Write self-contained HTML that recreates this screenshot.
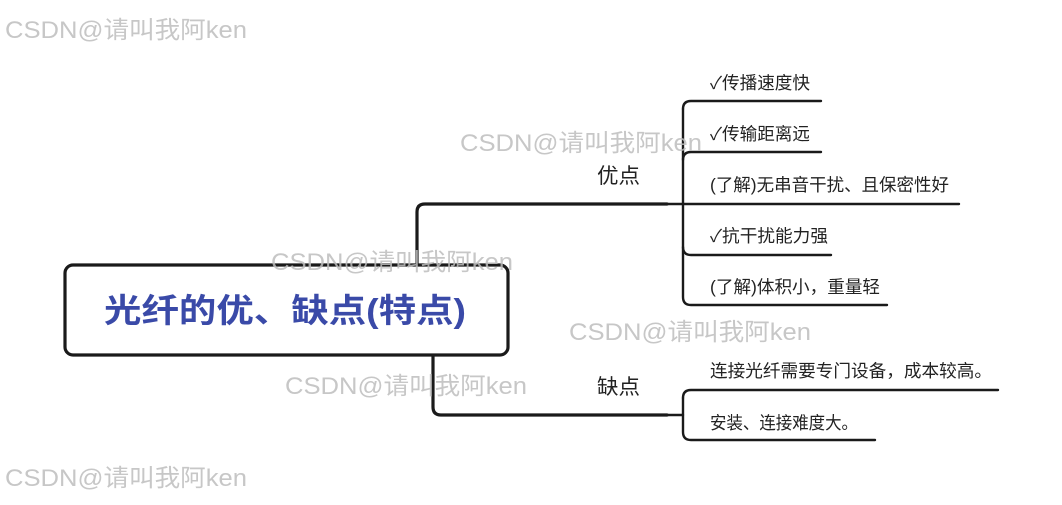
<!DOCTYPE html>
<html><head><meta charset="utf-8"><style>
html,body{margin:0;padding:0;background:#fff;width:1062px;height:505px;overflow:hidden}
svg{display:block}
text{font-family:"Liberation Sans","Noto Sans CJK SC",sans-serif}
</style></head><body>
<svg width="1062" height="505" viewBox="0 0 1062 505" xmlns="http://www.w3.org/2000/svg">
<rect width="1062" height="505" fill="#fff"/>
<g fill="none" stroke="#1a1a1a" stroke-linecap="round">
  <path d="M417 264 V212 Q417 204 425 204 H667" stroke-width="3.2"/>
  <path d="M667 204 H683" stroke-width="2.4"/>
  <path d="M683 109 Q683 101 691 101 H821" stroke-width="2.4"/>
  <path d="M683 109 V297 Q683 305 691 305 H887" stroke-width="2.4"/>
  <path d="M683 160 Q683 152 691 152 H821" stroke-width="2.4"/>
  <path d="M683 204 H959" stroke-width="2.4"/>
  <path d="M683 247 Q683 255 691 255 H831" stroke-width="2.4"/>
  <path d="M433 356 V407 Q433 415 441 415 H667" stroke-width="3.2"/>
  <path d="M667 415 H683" stroke-width="2.4"/>
  <path d="M683 398 Q683 390 691 390 H998" stroke-width="2.4"/>
  <path d="M683 398 V432 Q683 440 691 440 H875" stroke-width="2.4"/>
  <rect x="65" y="265" width="443" height="90" rx="8" ry="8" stroke-width="3.2" fill="#fff"/>
</g>
<text x="104" y="322" font-size="33" font-weight="bold" fill="#3a4aa8" textLength="362" lengthAdjust="spacingAndGlyphs">光纤的优、缺点(特点)</text>
<g font-size="21" fill="#222">
  <text x="597" y="183" textLength="43" lengthAdjust="spacingAndGlyphs">优点</text>
  <text x="597" y="394" textLength="43" lengthAdjust="spacingAndGlyphs">缺点</text>
</g>
<g font-size="17.5" fill="#222" lengthAdjust="spacingAndGlyphs">
  <text x="710" y="89" textLength="100" lengthAdjust="spacingAndGlyphs">✓传播速度快</text>
  <text x="710" y="140" textLength="100" lengthAdjust="spacingAndGlyphs">✓传输距离远</text>
  <text x="710" y="191" textLength="239" lengthAdjust="spacingAndGlyphs">(了解)无串音干扰、且保密性好</text>
  <text x="710" y="242" textLength="118" lengthAdjust="spacingAndGlyphs">✓抗干扰能力强</text>
  <text x="710" y="293" textLength="170" lengthAdjust="spacingAndGlyphs">(了解)体积小，重量轻</text>
  <text x="710" y="377" textLength="282" lengthAdjust="spacingAndGlyphs">连接光纤需要专门设备，成本较高。</text>
  <text x="710" y="429" textLength="148" lengthAdjust="spacingAndGlyphs">安装、连接难度大。</text>
</g>
<g font-size="24" fill="#bdbdbd" fill-opacity="0.85">
  <text x="5" y="38" textLength="242" lengthAdjust="spacingAndGlyphs">CSDN@请叫我阿ken</text>
  <text x="460" y="151" textLength="242" lengthAdjust="spacingAndGlyphs">CSDN@请叫我阿ken</text>
  <text x="271" y="270" textLength="242" lengthAdjust="spacingAndGlyphs">CSDN@请叫我阿ken</text>
  <text x="569" y="340" textLength="242" lengthAdjust="spacingAndGlyphs">CSDN@请叫我阿ken</text>
  <text x="285" y="394" textLength="242" lengthAdjust="spacingAndGlyphs">CSDN@请叫我阿ken</text>
  <text x="5" y="486" textLength="242" lengthAdjust="spacingAndGlyphs">CSDN@请叫我阿ken</text>
</g>
</svg>
</body></html>
